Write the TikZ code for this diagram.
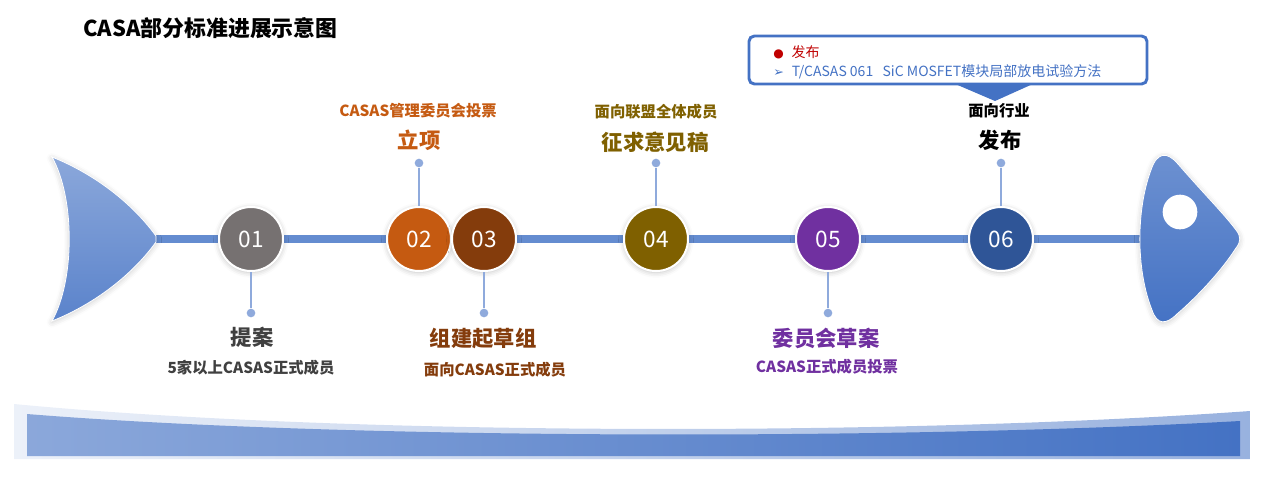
\documentclass[tikz,border=0pt]{standalone}
\usepackage{fontspec}
\setmainfont{Noto Sans CJK SC}
\newfontfamily\dejavu{DejaVu Sans}
\usetikzlibrary{shadows.blur}
\definecolor{cA}{HTML}{767171}
\definecolor{cB}{HTML}{C55A11}
\definecolor{cC}{HTML}{843C0C}
\definecolor{cD}{HTML}{7F6000}
\definecolor{cE}{HTML}{7030A0}
\definecolor{cF}{HTML}{2F5597}
\definecolor{gry}{HTML}{404040}
\definecolor{bl}{HTML}{4472C4}
\definecolor{lbl}{HTML}{8FAADC}
\definecolor{linec}{RGB}{100,140,208}
\definecolor{redc}{HTML}{C00000}
\tikzset{
  numc/.style={circle,draw=white,line width=1.5pt,minimum size=48pt,inner sep=0pt,
     text=white,font=\fontsize{17}{18}\selectfont,
     blur shadow={shadow xshift=0pt,shadow yshift=-1pt,shadow blur radius=4pt,shadow opacity=25}},
  dotn/.style={circle,fill=lbl,minimum size=6.5pt,inner sep=0pt},
  stem/.style={draw=lbl,line width=0.9pt},
  big/.style={font=\fontsize{16}{18}\selectfont\bfseries,inner sep=0pt},
  small/.style={font=\fontsize{11.5}{13}\selectfont\bfseries,inner sep=0pt},
}
\begin{document}
\begin{tikzpicture}[x=0.75pt,y=-0.75pt]
\useasboundingbox (0,0) rectangle (1264,480);
% title
\node[anchor=west,font=\fontsize{16.4}{18}\selectfont\bfseries,inner sep=0pt] (title) at (83,28) {CASA部分标准进展示意图};
% bottom band
\shade[left color=bl!10,right color=bl!55] (14,404) .. controls (350,436) and (900,436) .. (1250,411) -- (1250,459) -- (14,459) -- cycle;
\shade[left color=bl!62,right color=bl] (27,414) .. controls (350,440) and (900,440) .. (1240,421) -- (1240,456) -- (27,456) -- cycle;
% main line
\coordinate (ls) at (150,239);
\coordinate (le) at (1145,239);
\draw[linec,line width=6pt] (ls) -- (le);
% fish tail
\shade[top color=bl!62,bottom color=bl!88,draw=white,line width=0.6pt,
  blur shadow={shadow xshift=0pt,shadow yshift=-1pt,shadow blur radius=4pt,shadow opacity=20}]
  (52,157) .. controls (90,172) and (130,200) .. (156,236) -- (156,242)
  .. controls (130,278) and (90,306) .. (52,321)
  .. controls (75,280) and (75,198) .. (52,157) -- cycle;
% fish head
\shade[top color=bl!78,bottom color=bl,draw=white,line width=0.6pt,
  blur shadow={shadow xshift=0pt,shadow yshift=-1pt,shadow blur radius=4pt,shadow opacity=20}]
  (1151,170) .. controls (1157,152) and (1167,151) .. (1178,164)
  .. controls (1205,195) and (1225,215) .. (1236,230)
  .. controls (1241,236) and (1241,242) .. (1236,248)
  .. controls (1222,270) and (1198,296) .. (1177,314)
  .. controls (1166,325) and (1157,325) .. (1152,310)
  .. controls (1136,270) and (1136,210) .. (1151,170) -- cycle;
\node[circle,fill=white,minimum size=26pt,inner sep=0pt] (eye) at (1180,212) {};
% circles
\node[numc,fill=cA] (c1) at (251,239) {01};
\node[numc,fill=cB] (c2) at (419,239) {02};
\node[numc,fill=cC] (c3) at (484,239) {03};
\node[numc,fill=cD] (c4) at (656,239) {04};
\node[numc,fill=cE] (c5) at (828,239) {05};
\node[numc,fill=cF] (c6) at (1001,239) {06};
% dots
\node[dotn] (d1) at (251,313) {};
\node[dotn] (d2) at (419,163) {};
\node[dotn] (d3) at (484,313) {};
\node[dotn] (d4) at (656,163) {};
\node[dotn] (d5) at (828,313) {};
\node[dotn] (d6) at (1001,163) {};
\foreach \i in {1,...,6} {\draw[stem] (c\i) -- (d\i);}
% labels
\node[big,text=gry] (l1a) at (252,337) {提案};
\node[small,text=gry] (l1b) at (251,368) {5家以上CASAS正式成员};
\node[small,text=cB] (l2a) at (418,111) {CASAS管理委员会投票};
\node[big,text=cB] (l2b) at (419,140) {立项};
\node[big,text=cC] (l3a) at (483,338) {组建起草组};
\node[small,text=cC] (l3b) at (495,370) {面向CASAS正式成员};
\node[small,text=cD] (l4a) at (656,112) {面向联盟全体成员};
\node[big,text=cD] (l4b) at (655,142) {征求意见稿};
\node[big,text=cE] (l5a) at (826,338) {委员会草案};
\node[small,text=cE] (l5b) at (827,367) {CASAS正式成员投票};
\node[small,text=black] (l6a) at (999,111) {面向行业};
\node[big,text=black] (l6b) at (1000,140) {发布};
% callout
\fill[bl] (953,83) -- (1035,83) -- (995,101) -- cycle;
\draw[bl,fill=white,line width=2.2pt,rounded corners=4pt] (749,36) rectangle (1147,84);
\node[anchor=west,inner sep=0pt,text=redc,font=\fontsize{10.5}{12}\selectfont] (b1) at (773,52) {{\dejavu\fontsize{9}{10}\selectfont ●}\hspace{6pt}发布};
\node[anchor=west,inner sep=0pt,text=bl,font=\fontsize{10.5}{12}\selectfont] (b2) at (773,72) {{\dejavu\fontsize{9.5}{10}\selectfont ➢}\hspace{6pt}T/CASAS 061\hspace{7pt}SiC MOSFET模块局部放电试验方法};
\end{tikzpicture}
\end{document}
